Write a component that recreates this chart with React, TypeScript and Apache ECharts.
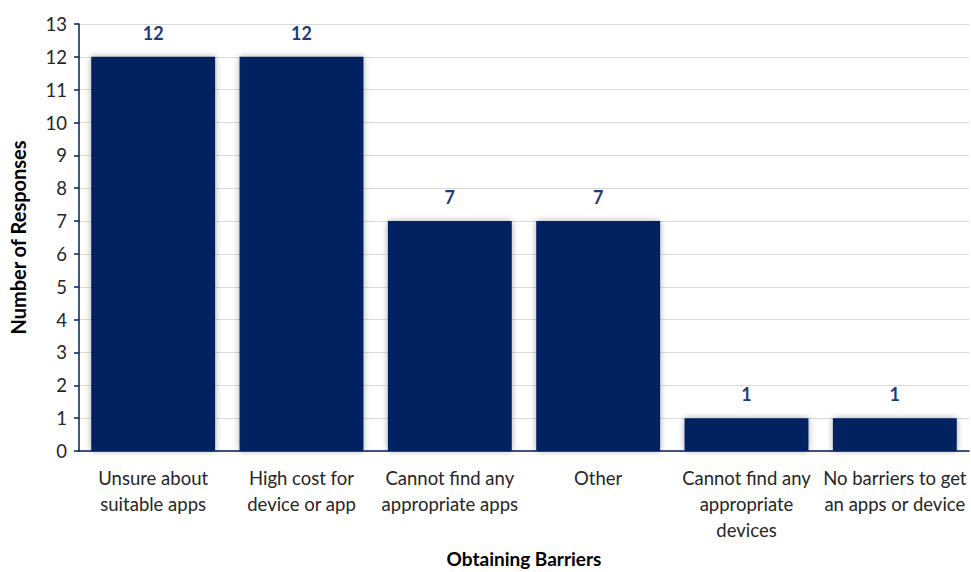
import React, { useEffect, useRef } from "react";
import * as echarts from "echarts";

const categories = [
  "Unsure about\nsuitable apps",
  "High cost for\ndevice or app",
  "Cannot find any\nappropriate apps",
  "Other",
  "Cannot find any\nappropriate\ndevices",
  "No barriers to get\nan apps or device",
];
const responses = [12, 12, 7, 7, 1, 1];

const NAVY = "#002060";
const FONT = "Lato, 'Open Sans', sans-serif";

export default function App() {
  const ref = useRef<HTMLDivElement>(null);

  useEffect(() => {
    if (!ref.current) return;
    const chart = echarts.init(ref.current, undefined, { renderer: "svg" });
    chart.setOption({
      animation: false,
      grid: {
        left: 79,
        right: 2,
        top: 24,
        bottom: 121,
        containLabel: false,
        outerBoundsMode: "none",
      },
      xAxis: {
        type: "category",
        data: categories,
        name: "Obtaining Barriers",
        nameLocation: "middle",
        nameGap: 98,
        nameTextStyle: { fontFamily: FONT, fontWeight: "bold", fontSize: 19, color: "#000" },
        axisLine: { lineStyle: { color: NAVY, width: 1.5 } },
        axisTick: { length: 5, lineStyle: { color: NAVY, width: 1.5 } },
        axisLabel: {
          interval: 0,
          fontFamily: FONT,
          fontSize: 18.5,
          color: "#262626",
          lineHeight: 26,
          margin: 14,
          verticalAlign: "top",
        },
      },
      yAxis: {
        type: "value",
        min: 0,
        max: 13,
        interval: 1,
        name: "Number of Responses",
        nameLocation: "middle",
        nameGap: 51,
        nameRotate: 90,
        nameTextStyle: { fontFamily: FONT, fontWeight: "bold", fontSize: 20, color: "#000" },
        axisLine: { show: true, lineStyle: { color: NAVY, width: 1.5 } },
        axisTick: { show: true, length: 5, lineStyle: { color: NAVY, width: 1.5 } },
        axisLabel: { fontFamily: FONT, fontSize: 18.5, color: "#262626", margin: 12 },
        splitLine: { lineStyle: { color: "#d9d9d9", width: 1 } },
      },
      series: [
        {
          type: "bar",
          data: responses,
          barCategoryGap: "16.5%",
          itemStyle: {
            color: NAVY,
            shadowBlur: 6,
            shadowColor: "rgba(0,0,0,0.35)",
          },
          label: {
            show: true,
            position: "top",
            distance: 15,
            fontFamily: FONT,
            fontWeight: "bold",
            fontSize: 18,
            color: "#1f3a7a",
          },
        },
      ],
    });
    return () => chart.dispose();
  }, []);

  return <div ref={ref} style={{ width: 971, height: 572, position: "absolute", left: 0, top: 0 }} />;
}
